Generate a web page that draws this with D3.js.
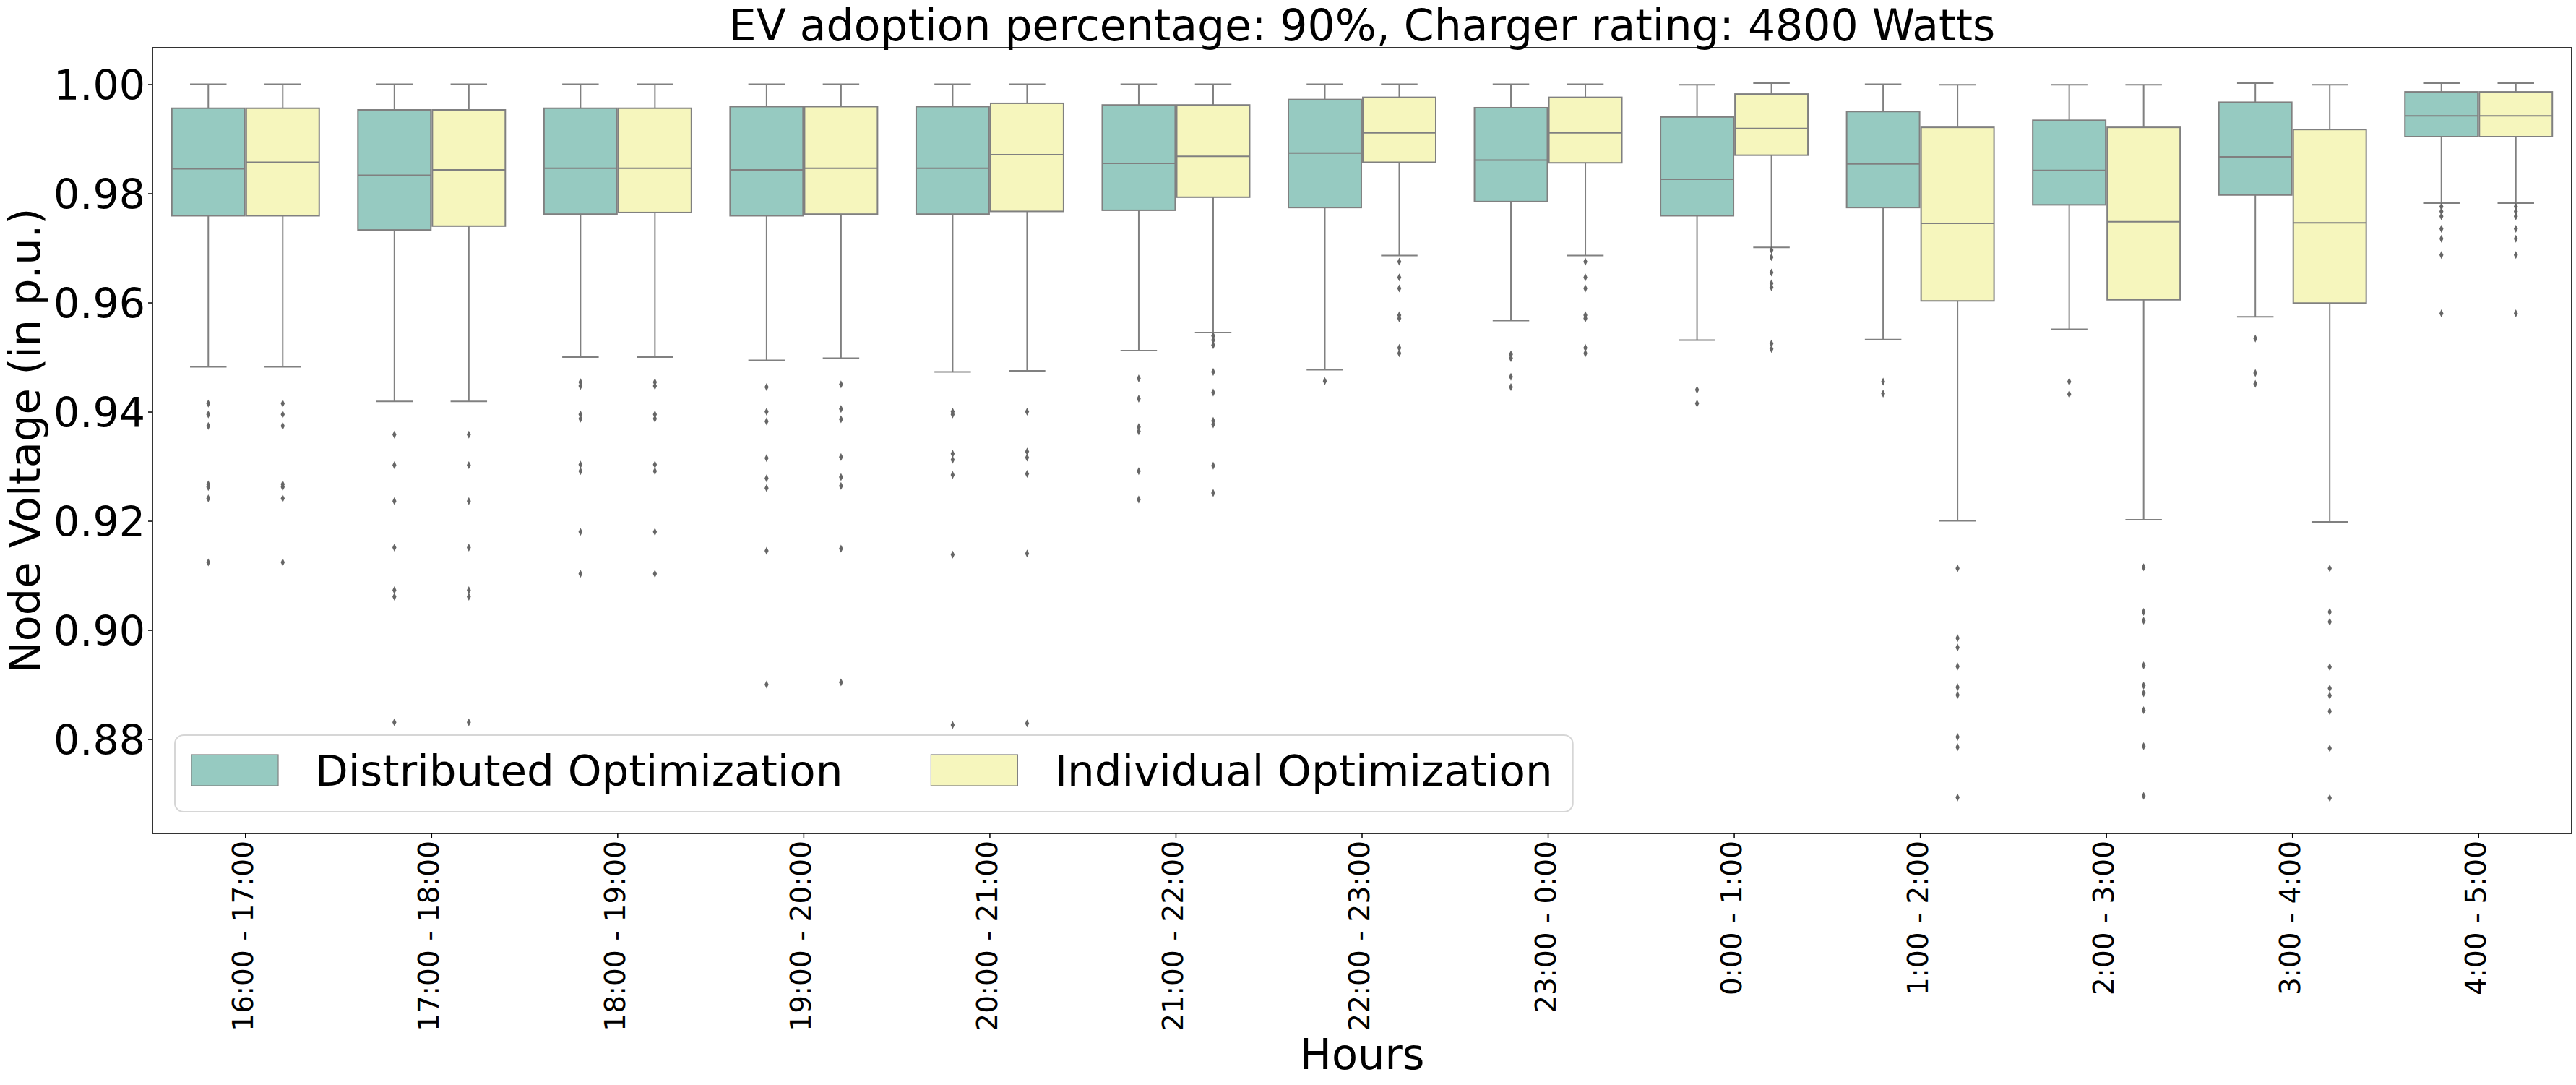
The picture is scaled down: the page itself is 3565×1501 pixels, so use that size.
<!DOCTYPE html>
<head>
  <script src="https://cdnjs.cloudflare.com/ajax/libs/d3/7.8.5/d3.min.js"></script>
  <style>
    body { margin: 0; background: #fff; }
    text { font-family: "DejaVu Sans", sans-serif; fill: #000; }
  </style>
</head>

<body>
  <div id="chart"></div>

  <script>
    const hours = ['16:00 - 17:00', '17:00 - 18:00', '18:00 - 19:00', '19:00 - 20:00',
      '20:00 - 21:00', '21:00 - 22:00', '22:00 - 23:00', '23:00 - 0:00', '0:00 - 1:00',
      '1:00 - 2:00', '2:00 - 3:00', '3:00 - 4:00', '4:00 - 5:00'];
    const series = ['Distributed Optimization', 'Individual Optimization'];
    const yTicks = [0.88, 0.90, 0.92, 0.94, 0.96, 0.98, 1.00];

    // Distributed Optimization
    const distHi  = [1.0, 1.0, 1.0, 1.0, 1.0, 1.0, 1.0, 1.0, 0.9999, 1.0, 0.9999, 1.0002, 1.0002];
    const distQ3  = [0.9956, 0.9953, 0.9956, 0.9959, 0.9959, 0.9962, 0.9972, 0.9957, 0.9940, 0.9950, 0.9934, 0.9967, 0.9986];
    const distMed = [0.9845, 0.9833, 0.9846, 0.9843, 0.9846, 0.9855, 0.9874, 0.9861, 0.9826, 0.9854, 0.9842, 0.9867, 0.9942];
    const distQ1  = [0.9759, 0.9733, 0.9762, 0.9759, 0.9762, 0.9769, 0.9774, 0.9785, 0.9759, 0.9774, 0.9779, 0.9797, 0.9904];
    const distLo  = [0.9482, 0.9419, 0.9500, 0.9494, 0.9473, 0.9512, 0.9477, 0.9567, 0.9531, 0.9532, 0.9551, 0.9574, 0.9782];
    const distFliers = [
      [0.9415, 0.9395, 0.9374, 0.9267, 0.9262, 0.9241, 0.9124],
      [0.9358, 0.9302, 0.9236, 0.9151, 0.9073, 0.9061, 0.8831],
      [0.9454, 0.9447, 0.9395, 0.9387, 0.9303, 0.9291, 0.9180, 0.9103],
      [0.9445, 0.9400, 0.9382, 0.9315, 0.9278, 0.9260, 0.9145, 0.8900],
      [0.9400, 0.9395, 0.9323, 0.9312, 0.9284, 0.9138, 0.8826],
      [0.9461, 0.9424, 0.9372, 0.9364, 0.9291, 0.9239],
      [0.9456],
      [0.9505, 0.9498, 0.9464, 0.9445],
      [0.9440, 0.9415],
      [0.9455, 0.9433],
      [0.9455, 0.9432],
      [0.9534, 0.9471, 0.9451],
      [0.9776, 0.9767, 0.9758, 0.9735, 0.9717, 0.9687, 0.9580]
    ];

    // Individual Optimization
    const indHi  = [1.0, 1.0, 1.0, 1.0, 1.0, 1.0, 1.0, 1.0, 1.0002, 0.9999, 0.9999, 0.9999, 1.0002];
    const indQ3  = [0.9956, 0.9953, 0.9956, 0.9959, 0.9965, 0.9962, 0.9976, 0.9976, 0.9982, 0.9921, 0.9921, 0.9917, 0.9986];
    const indMed = [0.9857, 0.9843, 0.9846, 0.9846, 0.9871, 0.9868, 0.9911, 0.9911, 0.9919, 0.9745, 0.9748, 0.9746, 0.9942];
    const indQ1  = [0.9759, 0.9740, 0.9765, 0.9762, 0.9767, 0.9793, 0.9857, 0.9856, 0.9870, 0.9603, 0.9605, 0.9599, 0.9904];
    const indLo  = [0.9482, 0.9419, 0.9500, 0.9498, 0.9475, 0.9545, 0.9686, 0.9686, 0.9701, 0.9200, 0.9202, 0.9198, 0.9782];
    const indFliers = [
      [0.9415, 0.9395, 0.9374, 0.9267, 0.9262, 0.9241, 0.9124],
      [0.9358, 0.9302, 0.9236, 0.9151, 0.9073, 0.9061, 0.8831],
      [0.9454, 0.9447, 0.9395, 0.9387, 0.9303, 0.9291, 0.9180, 0.9103],
      [0.9450, 0.9405, 0.9386, 0.9317, 0.9280, 0.9264, 0.9149, 0.8904],
      [0.9400, 0.9327, 0.9316, 0.9286, 0.9140, 0.8829],
      [0.9539, 0.9531, 0.9522, 0.9473, 0.9435, 0.9383, 0.9377, 0.9301, 0.9251],
      [0.9675, 0.9646, 0.9626, 0.9577, 0.9571, 0.9517, 0.9507],
      [0.9675, 0.9646, 0.9626, 0.9577, 0.9571, 0.9517, 0.9507],
      [0.9696, 0.9683, 0.9655, 0.9635, 0.9628, 0.9525, 0.9515],
      [0.9113, 0.8985, 0.8968, 0.8933, 0.8895, 0.8881, 0.8804, 0.8785, 0.8693],
      [0.9115, 0.9033, 0.9017, 0.8935, 0.8898, 0.8884, 0.8853, 0.8787, 0.8696],
      [0.9113, 0.9033, 0.9015, 0.8932, 0.8893, 0.8880, 0.8851, 0.8783, 0.8692],
      [0.9776, 0.9767, 0.9758, 0.9735, 0.9717, 0.9687, 0.9580]
    ];

    const colors = ['#96cac1', '#f6f6bd'];
    const lineColor = '#808080';

    const width = 3565, height = 1501;
    const margin = { top: 66, right: 6, bottom: 348, left: 211 };

    const svg = d3.select('#chart').append('svg')
      .attr('width', width)
      .attr('height', height);

    const x = d3.scaleBand().domain(hours)
      .range([margin.left, width - margin.right]);
    const bw = x.bandwidth();
    const xSub = d3.scaleBand().domain(series).range([0.1 * bw, 0.9 * bw]);
    const boxW = xSub.bandwidth() * 0.98;

    const y = d3.scaleLinear().domain([0.86272, 1.00669])
      .range([height - margin.bottom, margin.top]);

    const stats = [
      { lo: distLo, q1: distQ1, med: distMed, q3: distQ3, hi: distHi, fl: distFliers },
      { lo: indLo, q1: indQ1, med: indMed, q3: indQ3, hi: indHi, fl: indFliers }
    ];

    const boxes = [];
    series.forEach((s, si) => {
      hours.forEach((h, i) => {
        const st = stats[si];
        boxes.push({ h, s, si, lo: st.lo[i], q1: st.q1[i], med: st.med[i], q3: st.q3[i], hi: st.hi[i], fl: st.fl[i] });
      });
    });

    const cx = d => x(d.h) + xSub(d.s) + xSub.bandwidth() / 2;

    const g = svg.append('g');
    const box = g.selectAll('g.box').data(boxes).join('g').attr('class', 'box');

    // whiskers
    box.append('line')
      .attr('x1', cx).attr('x2', cx)
      .attr('y1', d => y(d.q3)).attr('y2', d => y(d.hi))
      .attr('stroke', lineColor).attr('stroke-width', 2);
    box.append('line')
      .attr('x1', cx).attr('x2', cx)
      .attr('y1', d => y(d.q1)).attr('y2', d => y(d.lo))
      .attr('stroke', lineColor).attr('stroke-width', 2);
    // caps
    ['hi', 'lo'].forEach(k => {
      box.append('line')
        .attr('x1', d => cx(d) - boxW / 4).attr('x2', d => cx(d) + boxW / 4)
        .attr('y1', d => y(d[k])).attr('y2', d => y(d[k]))
        .attr('stroke', lineColor).attr('stroke-width', 2);
    });
    // box
    box.append('rect')
      .attr('x', d => cx(d) - boxW / 2)
      .attr('width', boxW)
      .attr('y', d => y(d.q3))
      .attr('height', d => y(d.q1) - y(d.q3))
      .attr('fill', d => colors[d.si])
      .attr('stroke', lineColor).attr('stroke-width', 2);
    // median
    box.append('line')
      .attr('x1', d => cx(d) - boxW / 2).attr('x2', d => cx(d) + boxW / 2)
      .attr('y1', d => y(d.med)).attr('y2', d => y(d.med))
      .attr('stroke', lineColor).attr('stroke-width', 2);
    // fliers (thin diamonds)
    box.selectAll('path.flier').data(d => d.fl.map(v => ({ v, x: cx(d) })))
      .join('path').attr('class', 'flier')
      .attr('transform', f => `translate(${f.x},${y(f.v)})`)
      .attr('d', 'M0,-5.5L2.8,0L0,5.5L-2.8,0Z')
      .attr('fill', '#666');

    // axes
    const xAxis = svg.append('g')
      .attr('transform', `translate(0,${height - margin.bottom})`)
      .call(d3.axisBottom(x).tickSize(6).tickSizeOuter(0));
    xAxis.selectAll('text')
      .attr('font-size', 39)
      .attr('text-anchor', 'end')
      .attr('transform', 'translate(10,10) rotate(-90)')
      .attr('x', 0).attr('y', 0).attr('dy', 0);

    const yAxis = svg.append('g')
      .attr('transform', `translate(${margin.left},0)`)
      .call(d3.axisLeft(y).tickValues(yTicks).tickFormat(d3.format('.2f')).tickSize(6).tickSizeOuter(0));
    yAxis.selectAll('text').attr('font-size', 57).attr('x', -10).attr('dy', '0.36em');

    svg.selectAll('.domain').remove();
    svg.selectAll('.tick line').attr('stroke', '#000').attr('stroke-width', 1.5);
    svg.selectAll('.tick text').attr('fill', '#000').style('font-family', '"DejaVu Sans", sans-serif');

    svg.append('rect')
      .attr('x', margin.left).attr('y', margin.top)
      .attr('width', width - margin.left - margin.right)
      .attr('height', height - margin.top - margin.bottom)
      .attr('fill', 'none').attr('stroke', '#000').attr('stroke-width', 1.6);

    // labels
    const midX = margin.left + (width - margin.left - margin.right) / 2;
    svg.append('text').attr('x', midX).attr('y', 56)
      .attr('text-anchor', 'middle').attr('font-size', 60)
      .text('EV adoption percentage: 90%, Charger rating: 4800 Watts');
    svg.append('text').attr('x', midX).attr('y', 1479)
      .attr('text-anchor', 'middle').attr('font-size', 59)
      .text('Hours');
    svg.append('text')
      .attr('transform', `translate(55,${(margin.top + height - margin.bottom) / 2}) rotate(-90)`)
      .attr('text-anchor', 'middle').attr('font-size', 59)
      .text('Node Voltage (in p.u.)');

    // legend
    const leg = svg.append('g');
    const legBox = leg.append('rect')
      .attr('x', 242).attr('y', 1017).attr('height', 106).attr('rx', 12)
      .attr('fill', '#fff').attr('fill-opacity', 0.8)
      .attr('stroke', '#d6d6d6').attr('stroke-width', 2);
    let lx = 265;
    series.forEach((s, i) => {
      leg.append('rect').attr('x', lx).attr('y', 1044).attr('width', 120).attr('height', 43)
        .attr('fill', colors[i]).attr('stroke', lineColor).attr('stroke-width', 1.2);
      const t = leg.append('text').attr('x', lx + 171).attr('y', 1087)
        .attr('font-size', 59.5).text(s);
      lx = lx + 171 + t.node().getComputedTextLength() + 122;
    });
    legBox.attr('width', lx - 122 + 28 - 242);
  </script>
</body>
